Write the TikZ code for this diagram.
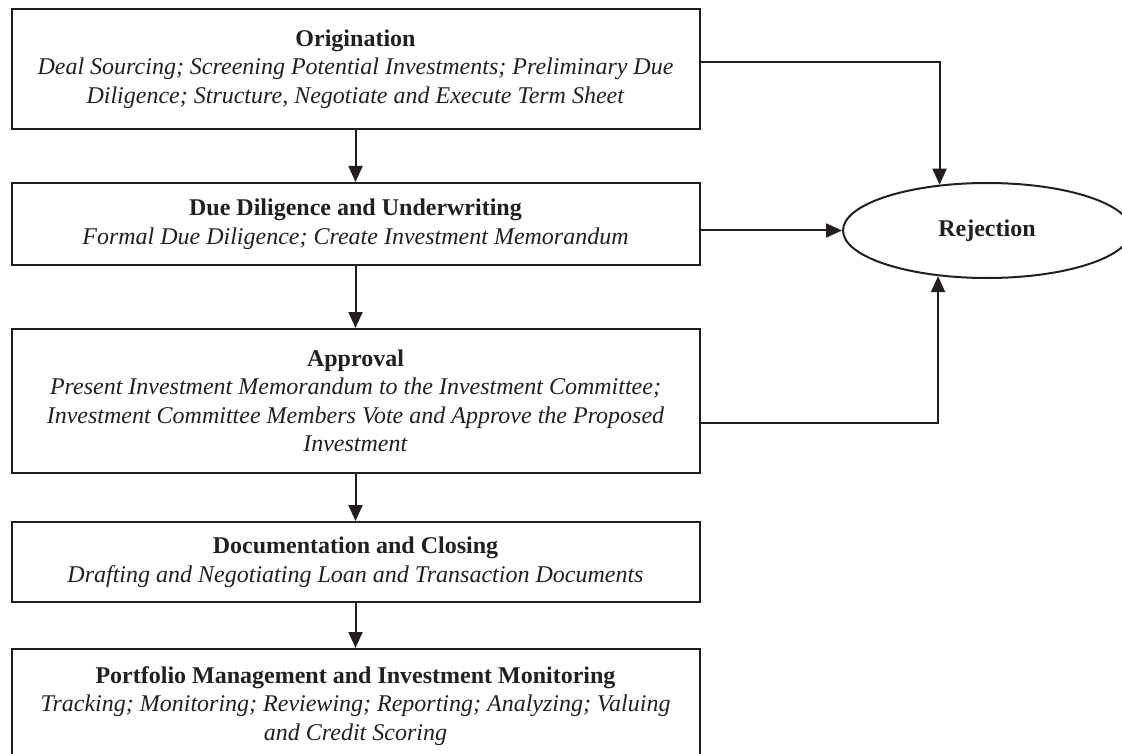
\documentclass[tikz,border=0pt]{standalone}
\usepackage{fontspec}
\setmainfont{Liberation Serif}
\usetikzlibrary{arrows.meta,shapes.geometric}
\definecolor{ink}{RGB}{35,31,32}
\begin{document}
\begin{tikzpicture}[x=1pt,y=-1pt,
  box/.style={draw=ink, line width=2pt, rectangle, minimum width=688pt, align=center, inner sep=0pt, text=ink, font=\fontsize{24}{28.5}\selectfont},
  oval/.style={draw=ink, line width=2pt, ellipse, minimum width=288pt, minimum height=95pt, inner sep=0pt, text=ink, font=\fontsize{24}{28.5}\selectfont\bfseries},
  arr/.style={draw=ink, line width=2pt, -{Triangle[length=16pt,width=14pt]}}
  ]
\clip (0,0) rectangle (1122,754);
\fill[white] (0,0) rectangle (1122,754);

\node[box, minimum height=120pt] (orig) at (355.5,69)
  {\textbf{Origination}\\
   \textit{Deal Sourcing; Screening Potential Investments; Preliminary Due}\\
   \textit{Diligence; Structure, Negotiate and Execute Term Sheet}};
\node[box, minimum height=82pt] (dd) at (355.5,224)
  {\textbf{Due Diligence and Underwriting}\\
   \textit{Formal Due Diligence; Create Investment Memorandum}};
\node[box, minimum height=144pt] (appr) at (355.5,401)
  {\textbf{Approval}\\
   \textit{Present Investment Memorandum to the Investment Committee;}\\
   \textit{Investment Committee Members Vote and Approve the Proposed}\\
   \textit{Investment}};
\node[box, minimum height=80pt] (doc) at (355.5,562)
  {\textbf{Documentation and Closing}\\
   \textit{Drafting and Negotiating Loan and Transaction Documents}};
\node[box, minimum height=114pt] (port) at (355.5,706)
  {\textbf{Portfolio Management and Investment Monitoring}\\
   \textit{Tracking; Monitoring; Reviewing; Reporting; Analyzing; Valuing}\\
   \textit{and Credit Scoring}};

\node[oval] (rej) at (987,230.5) {Rejection};

\draw[arr] (orig.south) -- (dd.north);
\draw[arr] (dd.south) -- (appr.north);
\draw[arr] (appr.south) -- (doc.north);
\draw[arr] (doc.south) -- (port.north);

\draw[arr] ([yshift=7pt]orig.east) -| (rej.136.3);
\draw[arr] (dd.east |- rej.west) -- (rej.west);
\draw[arr] ([yshift=-22pt]appr.east) -| (rej.223.7);
\end{tikzpicture}
\end{document}
